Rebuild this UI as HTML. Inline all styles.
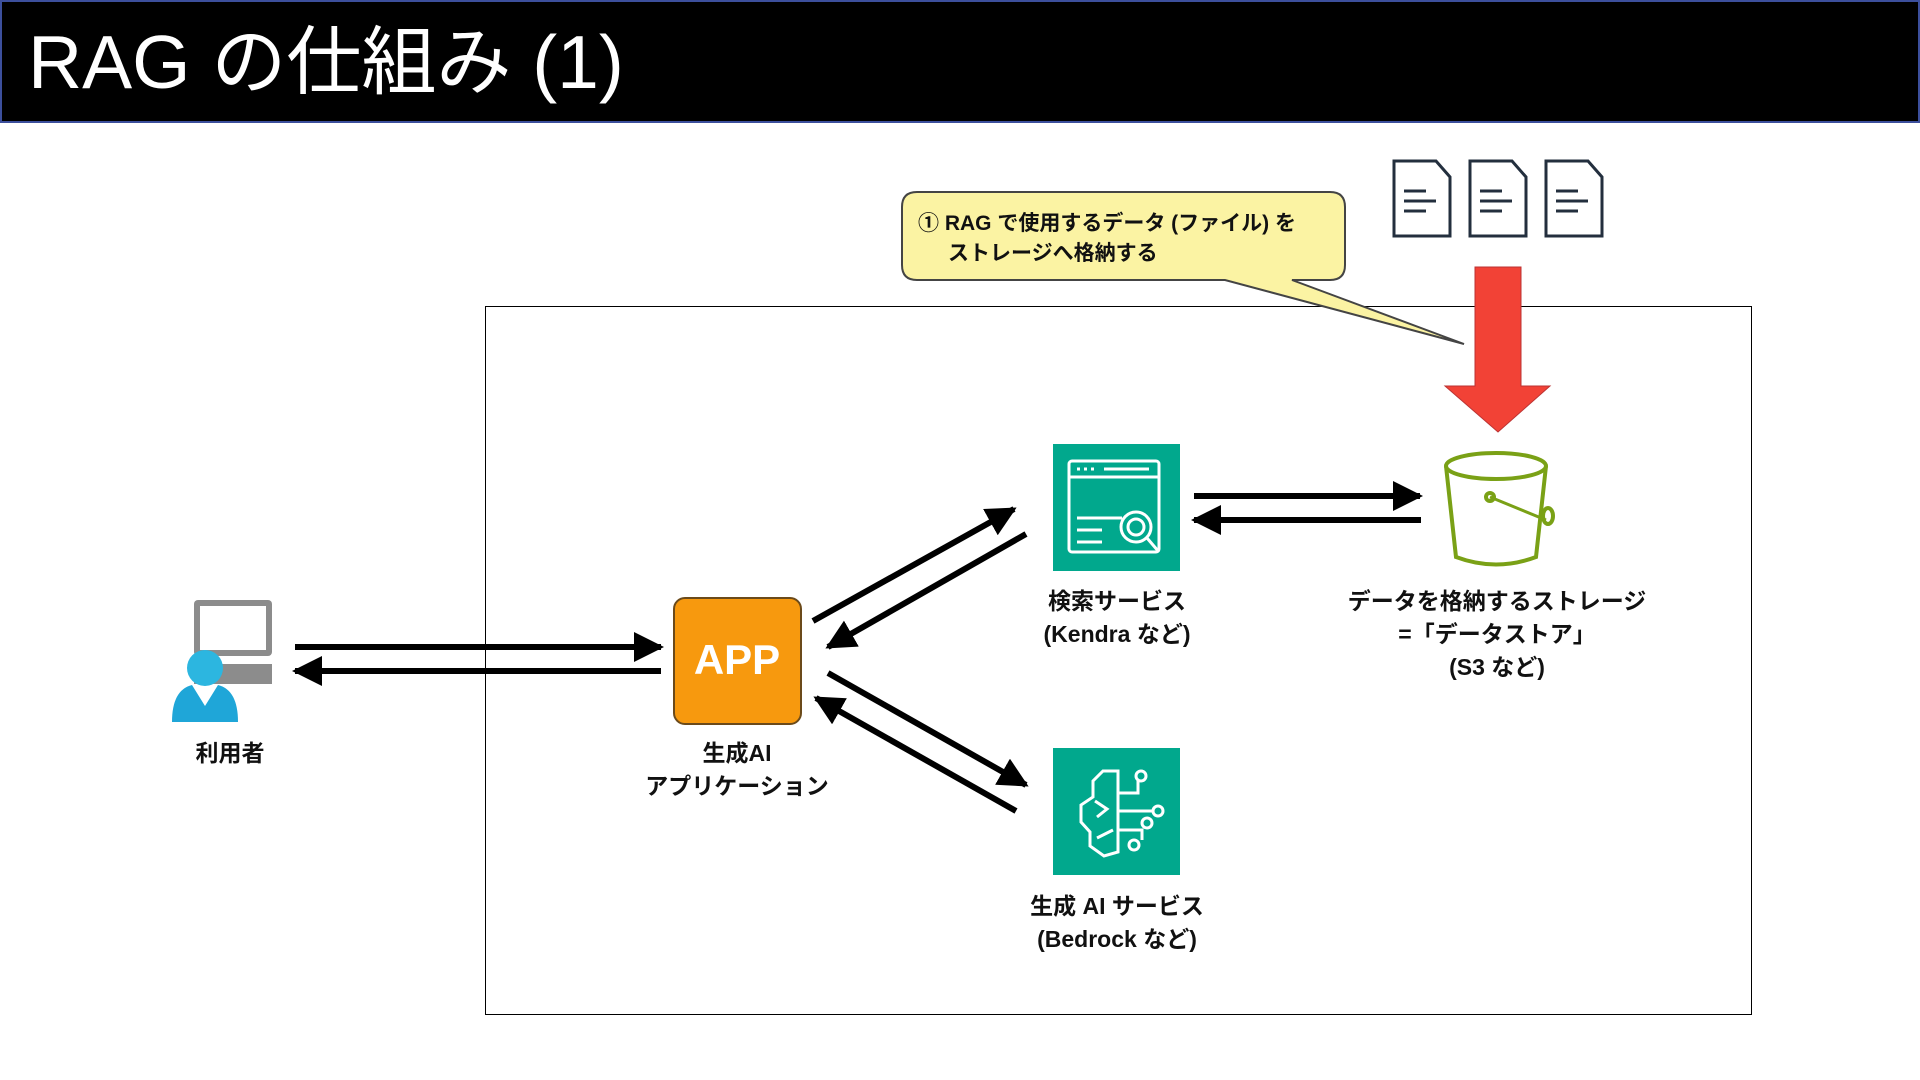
<!DOCTYPE html>
<html><head><meta charset="utf-8"><style>
html,body{margin:0;padding:0;background:#fff;}
body{width:1920px;height:1080px;position:relative;overflow:hidden;font-family:"Liberation Sans","Noto Sans CJK JP",sans-serif;}
.hdr{position:absolute;left:0;top:0;width:1916px;height:119px;background:#000;border:2px solid #3c4f9c;}
.title{position:absolute;left:28px;top:14px;color:#fff;font-size:75px;line-height:96px;font-weight:normal;white-space:nowrap;}
.lbl{position:absolute;font-weight:bold;font-size:23px;line-height:33px;text-align:center;color:#111;white-space:nowrap;transform:translateX(-50%);}
</style></head><body>
<div class="hdr"></div>
<div class="title">RAG の仕組み (1)</div>
<svg width="1920" height="1080" style="position:absolute;left:0;top:0">
<defs>
<marker id="ah" markerWidth="5" markerHeight="5" refX="4.5" refY="2.5" orient="auto" markerUnits="strokeWidth"><path d="M0,0 L5,2.5 L0,5 Z" fill="#000"/></marker>
</defs>
<rect x="485.5" y="306.5" width="1266" height="708" fill="none" stroke="#000" stroke-width="1"/>
<path d="M917,192 H1330 Q1345,192 1345,207 V265 Q1345,280 1330,280 H1292 L1464,344 L1225,280 H917 Q902,280 902,265 V207 Q902,192 917,192 Z" fill="#fbf3a3" stroke="#444" stroke-width="2"/>
<text x="918" y="230" font-size="21" font-weight="bold" font-family="Liberation Sans, Noto Sans CJK JP, sans-serif" fill="#111">① RAG で使用するデータ (ファイル) を</text>
<text x="948" y="260" font-size="21" font-weight="bold" font-family="Liberation Sans, Noto Sans CJK JP, sans-serif" fill="#111">ストレージへ格納する</text>
<g fill="#fff" stroke="#232f3e" stroke-width="3">
<path d="M1394,161 H1436 L1450,177 V236 H1394 Z"/><path d="M1470,161 H1512 L1526,177 V236 H1470 Z"/><path d="M1546,161 H1588 L1602,177 V236 H1546 Z"/>
</g>
<g stroke="#232f3e" stroke-width="3">
<path d="M1404,191h22M1404,201h32M1404,211h22M1480,191h22M1480,201h32M1480,211h22M1556,191h22M1556,201h32M1556,211h22"/>
</g>
<path d="M1475,267 H1521 V386 H1550 L1498,432 L1445,386 H1475 Z" fill="#f24236" stroke="#b33" stroke-width="1"/>
<rect x="1053" y="444" width="127" height="127" fill="#01a88d"/>
<g fill="none" stroke="#fff" stroke-width="3">
<rect x="1069" y="461" width="90" height="91" rx="3"/>
<path d="M1069,477h90M1077,518h45M1077,530h25M1077,542h25"/>
<circle cx="1136" cy="527" r="15"/><circle cx="1136" cy="527" r="8"/>
<path d="M1147,538 L1159,552"/>
<path d="M1077,469h3M1084,469h3M1091,469h3M1104,469h45"/>
</g>
<g fill="none" stroke="#7aa116" stroke-width="4">
<ellipse cx="1496" cy="466" rx="50" ry="13"/>
<path d="M1446,466 L1456,557 Q1496,572 1536,557 L1546,466"/>
<path d="M1490,497 L1546,520" stroke-width="3"/>
<circle cx="1490" cy="497" r="4"/>
<ellipse cx="1548" cy="516" rx="5" ry="8"/>
</g>
<rect x="1053" y="748" width="127" height="127" fill="#01a88d"/>
<g fill="none" stroke="#fff" stroke-width="3">
<path d="M1118,771 L1103,771 L1093,781 V797 L1081,805 V822 L1090,832 V846 L1104,856 L1118,852 Z"/>
<path d="M1118,793h20V780M1118,811h34M1118,830h24v10M1095,801l12,8l-10,8M1097,838l16,-8"/>
<circle cx="1141" cy="776" r="5"/><circle cx="1158" cy="811" r="5"/><circle cx="1147" cy="823" r="5"/><circle cx="1134" cy="845" r="5"/>
</g>
<rect x="674" y="598" width="127" height="126" rx="11" fill="#f7990e" stroke="#6b4a1a" stroke-width="2"/>
<text x="737" y="674" text-anchor="middle" font-size="42" font-weight="bold" fill="#fff" font-family="Liberation Sans, sans-serif">APP</text>
<rect x="194" y="600" width="78" height="56" rx="4" fill="#8c8c8c"/>
<rect x="200" y="606" width="66" height="44" fill="#fff"/>
<rect x="194" y="664" width="78" height="20" fill="#8c8c8c"/>
<circle cx="205" cy="668" r="18" fill="#2cb6e0"/>
<path d="M172,722 Q172,690 192,685 L205,706 L218,685 Q238,690 238,722 Z" fill="#1fa6d8"/>
<g stroke="#000" stroke-width="6" fill="none">
<line x1="295" y1="647" x2="661" y2="647" marker-end="url(#ah)"/>
<line x1="661" y1="671" x2="295" y2="671" marker-end="url(#ah)"/>
<line x1="1194" y1="496" x2="1420" y2="496" marker-end="url(#ah)"/>
<line x1="1421" y1="520" x2="1194" y2="520" marker-end="url(#ah)"/>
<line x1="813" y1="621" x2="1014" y2="509" marker-end="url(#ah)"/>
<line x1="1026" y1="534" x2="828" y2="647" marker-end="url(#ah)"/>
<line x1="828" y1="673" x2="1026" y2="785" marker-end="url(#ah)"/>
<line x1="1016" y1="811" x2="816" y2="698" marker-end="url(#ah)"/>
</g>
</svg>
<div class="lbl" style="left:230px;top:737px">利用者</div>
<div class="lbl" style="left:737px;top:737px">生成AI<br>アプリケーション</div>
<div class="lbl" style="left:1117px;top:585px">検索サービス<br>(Kendra など)</div>
<div class="lbl" style="left:1497px;top:585px">データを格納するストレージ<br>=「データストア」<br>(S3 など)</div>
<div class="lbl" style="left:1117px;top:890px">生成 AI サービス<br>(Bedrock など)</div>
</body></html>
